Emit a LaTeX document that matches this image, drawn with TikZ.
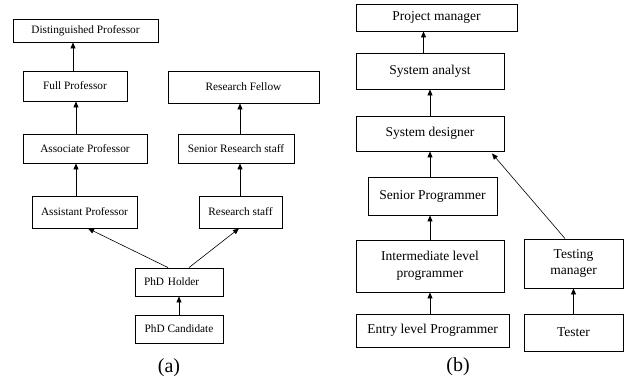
\documentclass[tikz,border=0pt]{standalone}
\usepackage{fontspec}
\setmainfont{Liberation Serif}
\usetikzlibrary{arrows.meta}
\tikzset{
  boxa/.style={draw, line width=0.9pt, inner sep=0pt, font=\fontsize{11.3}{13.5}\selectfont, anchor=center},
  boxb/.style={draw, line width=0.9pt, inner sep=0pt, align=center, font=\fontsize{13.5}{16.5}\selectfont, anchor=center},
  arr/.style={line width=0.9pt, -{Triangle[length=6pt,width=5pt]}},
  darr/.style={line width=0.6pt, -{Triangle[length=6pt,width=5pt]}},
  subcaption/.style={font=\fontsize{20}{24}\selectfont}
}
\begin{document}
\begin{tikzpicture}[x=1pt,y=-1pt]
\useasboundingbox[fill=white] (0,0) rectangle (629,381);
% (a)
\node[boxa, minimum width=145pt, minimum height=23pt] (dp) at (85.5,30.5) {Distinguished Professor};
\node[boxa, minimum width=104pt, minimum height=30pt] (fp) at (75,86) {Full Professor};
\node[boxa, minimum width=151pt, minimum height=32pt] (rf) at (243.5,87) {Research Fellow};
\node[boxa, minimum width=124pt, minimum height=29pt] (ap) at (85,148.5) {Associate Professor};
\node[boxa, minimum width=116pt, minimum height=29pt] (srs) at (236,148.5) {Senior Research staff};
\node[boxa, minimum width=105pt, minimum height=32pt] (asp) at (84.5,212) {Assistant Professor};
\node[boxa, minimum width=83pt, minimum height=32pt] (rs) at (240.5,212) {Research staff};
\node[boxa, minimum width=88pt, minimum height=28pt, text width=70pt, align=left, inner xsep=9pt] (phh) at (179,282) {PhD Holder};
\node[boxa, minimum width=88pt, minimum height=28pt] (phc) at (179,329) {PhD Candidate};
\node[subcaption] (la) at (169,368) {(a)};

\draw[arr] ([xshift=-2pt]fp.north) -- ([xshift=-2pt]fp.north |- dp.south);
\draw[arr] ([xshift=-9pt]ap.north) -- ([xshift=-9pt]ap.north |- fp.south);
\draw[arr] ([xshift=-8.5pt]asp.north) -- ([xshift=-8.5pt]asp.north |- ap.south);
\draw[arr] ([xshift=-0.5pt]rs.north) -- ([xshift=-0.5pt]rs.north |- srs.south);
\draw[arr] ([xshift=4pt]srs.north) -- ([xshift=4pt]srs.north |- rf.south);
\draw[darr] ([xshift=-11pt]phh.north) -- ([xshift=3.5pt]asp.south);
\draw[darr] ([xshift=10pt]phh.north) -- ([xshift=-1.5pt]rs.south);
\draw[arr] (phc.north) -- (phh.south);

% (b)
\node[boxb, minimum width=161pt, minimum height=27pt] (pm) at (436.5,17.5) {Project manager};
\node[boxb, minimum width=148pt, minimum height=36pt] (sa) at (430,71) {System analyst};
\node[boxb, minimum width=148pt, minimum height=35pt] (sd) at (430,133.5) {System designer};
\node[boxb, minimum width=129pt, minimum height=38pt] (sp) at (432.5,196) {Senior Programmer};
\node[boxb, minimum width=148pt, minimum height=52pt] (ilp) at (430,266) {Intermediate level\\programmer};
\node[boxb, minimum width=153pt, minimum height=33pt] (elp) at (432.5,330.5) {Entry level Programmer};
\node[boxb, minimum width=99pt, minimum height=49pt] (tm) at (573.5,263.5) {Testing\\manager};
\node[boxb, minimum width=99pt, minimum height=37pt] (ts) at (573.5,332.5) {Tester};
\node[subcaption] (lb) at (458,367) {(b)};

\draw[arr] ([xshift=-6.5pt]sa.north) -- ([xshift=-6.5pt]sa.north |- pm.south);
\draw[arr] (sd.north) -- (sa.south);
\draw[arr] ([xshift=-2.5pt]sp.north) -- ([xshift=-2.5pt]sp.north |- sd.south);
\draw[arr] (ilp.north) -- (ilp.north |- sp.south);
\draw[arr] ([xshift=-2.5pt]elp.north) -- ([xshift=-2.5pt]elp.north |- ilp.south);
\draw[darr] ([xshift=-8.5pt]tm.north) -- ([xshift=62pt,yshift=-2pt]sd.south);
\draw[arr] (ts.north) -- (tm.south);
\end{tikzpicture}
\end{document}
